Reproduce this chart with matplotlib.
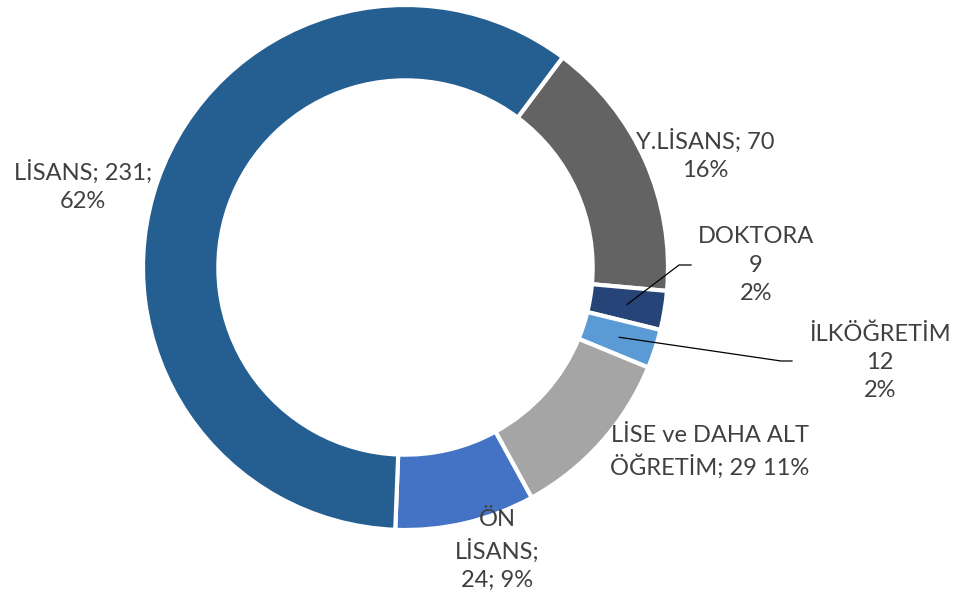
import numpy as np
import matplotlib
matplotlib.use("Agg")
import matplotlib.pyplot as plt

# slices in drawing order (clockwise, starting right after LİSANS)
categories = ["Y.LİSANS", "DOKTORA", "İLKÖĞRETİM", "LİSE ve DAHA ALT ÖĞRETİM", "ÖN LİSANS", "LİSANS"]
counts = [70, 9, 12, 29, 24, 231]
pct_labels = ["16%", "2%", "2%", "11%", "9%", "62%"]
# slice shares as measured on the picture (percent of the ring)
shares = [16.2, 2.4, 2.4, 10.8, 8.6, 59.6]
colors = ["#636363", "#264478", "#5B9BD5", "#A5A5A5", "#4472C4", "#255E91"]

# label texts, as they are wrapped in the chart
label_texts = [
    f"{categories[0]}; {counts[0]}\n{pct_labels[0]}",
    f"{categories[1]}\n{counts[1]}\n{pct_labels[1]}",
    f"{categories[2]}\n{counts[2]}\n{pct_labels[2]}",
    f"LİSE ve DAHA ALT\nÖĞRETİM; {counts[3]} {pct_labels[3]}",
    f"ÖN\nLİSANS;\n{counts[4]}; {pct_labels[4]}",
    f"{categories[5]}; {counts[5]};\n{pct_labels[5]}",
]
# label centres in pixel coordinates (x from left, y from top)
label_pos = [(705, 155), (756, 265), (880, 362), (710, 452), (497, 550), (83, 186)]

W, H = 959, 606
fig = plt.figure(figsize=(W / 100, H / 100), dpi=100)
ax = fig.add_axes([0, 0, 1, 1])
ax.set_xlim(0, W)
ax.set_ylim(0, H)
ax.set_aspect("equal")
ax.axis("off")

cx, cy, R = 405.5, H - 267.5, 262.5
ring = 0.287

wedges, _ = ax.pie(shares, colors=colors, startangle=53.2, counterclock=False,
                   center=(cx, cy), radius=R, frame=True,
                   wedgeprops=dict(width=R * ring, edgecolor="white", linewidth=3))
ax.set_xlim(0, W)
ax.set_ylim(0, H)
ax.axis("off")

font = dict(family=["Lato", "DejaVu Sans"], size=17, color="#404040")
for txt, (x, y) in zip(label_texts, label_pos):
    ax.text(x, H - y, txt, ha="center", va="center", linespacing=1.42, **font)

# leader lines for the two thin slices
leaders = {1: [(679, 265), (691, 265)], 2: [(781, 361), (792, 361)]}
for i, pts in leaders.items():
    w = wedges[i]
    mid = np.deg2rad((w.theta1 + w.theta2) / 2)
    r = R * (1 - ring / 2)
    xs = [cx + r * np.cos(mid)] + [p[0] for p in pts]
    ys = [cy + r * np.sin(mid)] + [H - p[1] for p in pts]
    ax.plot(xs, ys, color="black", linewidth=0.9)

fig.savefig("out.png", dpi=100, facecolor="white")
